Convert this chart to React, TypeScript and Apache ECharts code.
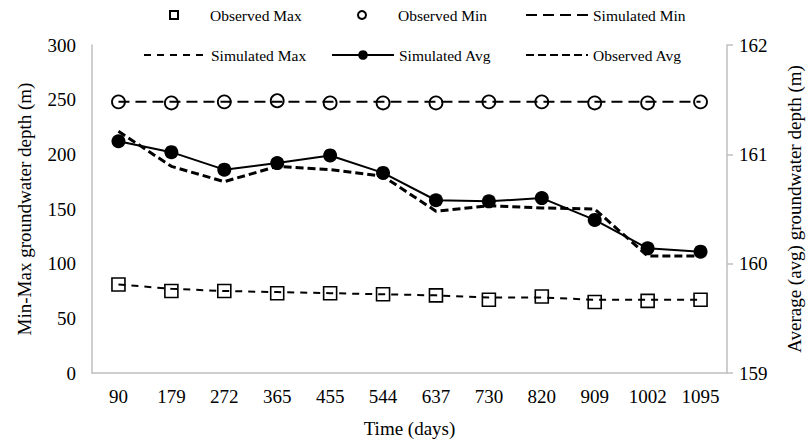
import React, { useEffect, useRef } from "react";
import * as echarts from "echarts";

const days = ["90", "179", "272", "365", "455", "544", "637", "730", "820", "909", "1002", "1095"];
const observedMax = [81, 75, 75, 73, 73, 72, 71, 67, 70, 65, 66, 67];
const simulatedMax = [81, 77, 75, 74, 73, 72, 71, 69, 69, 67, 67, 67];
const observedMin = [248, 247, 248, 249, 247, 247, 247, 248, 248, 247, 247, 248];
const simulatedMin = [248, 248, 248, 248, 248, 248, 248, 248, 248, 248, 248, 248];
const simulatedAvg = [161.12, 161.02, 160.86, 160.92, 160.99, 160.83, 160.58, 160.57, 160.6, 160.4, 160.14, 160.11];
const observedAvg = [161.21, 160.89, 160.75, 160.89, 160.86, 160.8, 160.48, 160.53, 160.51, 160.5, 160.07, 160.07];
const leftTicks = { min: 0, max: 300, interval: 50 };
const rightTicks = { min: 159, max: 162, interval: 1 };

const FONT = "Liberation Serif";

export default function App() {
  const ref = useRef<HTMLDivElement>(null);
  useEffect(() => {
    if (!ref.current) return;
    const chart = echarts.init(ref.current, null, { renderer: "svg" });
    const legendText = { fontFamily: FONT, fontSize: 15.5, color: "#000" };
    const mkLegend = (name: string, left: number, top: number, h: number, hideSymbol = false) => ({
      data: [name],
      left,
      top,
      itemWidth: 62,
      itemHeight: h,
      itemGap: 0,
      textStyle: legendText,
      padding: 0,
      ...(hideSymbol
        ? { itemStyle: { color: "rgba(0,0,0,0)", borderColor: "rgba(0,0,0,0)", borderWidth: 0, opacity: 0 } }
        : {}),
    });
    chart.setOption({
      animation: false,
      backgroundColor: "#fff",
      legend: [
        mkLegend("Observed Max", 143, 7, 10),
        mkLegend("Observed Min", 331, 7, 10),
        mkLegend("Simulated Min", 525, 7, 10, true),
        mkLegend("Simulated Max", 143, 47, 10, true),
        mkLegend("Simulated Avg", 331, 47, 12),
        mkLegend("Observed Avg", 525, 47, 10, true),
      ],
      grid: { left: 92, right: 85, top: 45, bottom: 68 },
      xAxis: {
        type: "category",
        data: days,
        boundaryGap: true,
        name: "Time (days)",
        nameLocation: "middle",
        nameGap: 46,
        nameTextStyle: { fontFamily: FONT, fontSize: 19, color: "#000" },
        axisLine: { lineStyle: { color: "#bfbfbf", width: 1.5 } },
        axisTick: { show: false },
        axisLabel: { fontFamily: FONT, fontSize: 19, color: "#000", margin: 14 },
      },
      yAxis: [
        {
          type: "value",
          ...leftTicks,
          name: "Min-Max groundwater depth (m)",
          nameLocation: "middle",
          nameRotate: 90,
          nameGap: 58,
          nameTextStyle: { fontFamily: FONT, fontSize: 19, color: "#000" },
          axisLine: { show: true, lineStyle: { color: "#bfbfbf", width: 1.5 } },
          axisTick: { show: false },
          splitLine: { show: false },
          axisLabel: { fontFamily: FONT, fontSize: 19, color: "#000", margin: 16 },
        },
        {
          type: "value",
          ...rightTicks,
          position: "right",
          name: "Average (avg) groundwater depth (m)",
          nameLocation: "middle",
          nameRotate: 90,
          nameGap: 58,
          nameTextStyle: { fontFamily: FONT, fontSize: 19, color: "#000" },
          axisLine: { show: true, lineStyle: { color: "#bfbfbf", width: 1.5 } },
          axisTick: { show: true, length: 6, lineStyle: { color: "#bfbfbf", width: 1.5 } },
          splitLine: { show: false },
          axisLabel: { fontFamily: FONT, fontSize: 19, color: "#000", margin: 12 },
        },
      ],
      series: [
        {
          name: "Observed Max",
          type: "line",
          data: observedMax,
          symbol: "rect",
          symbolSize: 13,
          color: "#000",
          itemStyle: { color: "#fff", borderColor: "#000", borderWidth: 1.6 },
          lineStyle: { width: 0, opacity: 0 },
          z: 2,
        },
        {
          name: "Observed Min",
          type: "line",
          data: observedMin,
          symbol: "circle",
          symbolSize: 13,
          color: "#000",
          itemStyle: { color: "#fff", borderColor: "#000", borderWidth: 1.8 },
          lineStyle: { width: 0, opacity: 0 },
          z: 2,
        },
        {
          name: "Simulated Max",
          type: "line",
          data: simulatedMax,
          symbol: "none",
          color: "#000",
          lineStyle: { color: "#000", width: 2, type: [7, 6] },
          z: 3,
        },
        {
          name: "Simulated Min",
          type: "line",
          data: simulatedMin,
          symbol: "none",
          color: "#000",
          lineStyle: { color: "#000", width: 2, type: [11, 6] },
          z: 3,
        },
        {
          name: "Observed Avg",
          type: "line",
          yAxisIndex: 1,
          data: observedAvg,
          symbol: "none",
          color: "#000",
          lineStyle: { color: "#000", width: 3, type: [8, 4] },
          z: 3,
        },
        {
          name: "Simulated Avg",
          type: "line",
          yAxisIndex: 1,
          data: simulatedAvg,
          symbol: "circle",
          symbolSize: 14,
          color: "#000",
          itemStyle: { color: "#000" },
          lineStyle: { color: "#000", width: 2 },
          z: 4,
        },
      ],
    });
    return () => chart.dispose();
  }, []);
  return (
    <div
      ref={ref}
      style={{ position: "fixed", left: 0, top: 0, width: 812, height: 443, background: "#fff" }}
    />
  );
}
